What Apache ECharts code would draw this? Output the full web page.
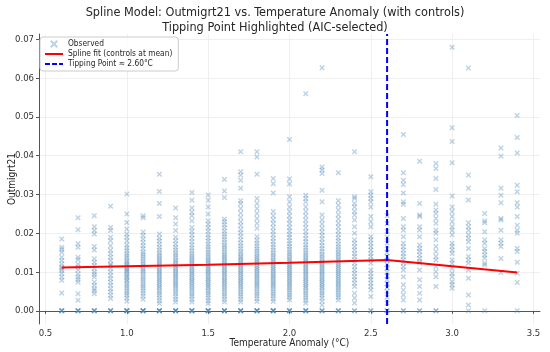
<!DOCTYPE html>
<html>
<head>
<meta charset="utf-8">
<script src="https://cdn.jsdelivr.net/npm/echarts@6/dist/echarts.min.js"></script>
<style>html,body{margin:0;padding:0;background:#fff}#chart{width:550px;height:352px}</style>
</head>
<body>
<div id="chart"></div>
<script>
// ---- Data ----
const temps = [0.6,0.7,0.8,0.9,1.0,1.1,1.2,1.3,1.4,1.5,1.6,1.7,1.8,1.9,2.0,2.1,2.2,2.3,2.4,2.5,2.6,2.7,2.8,2.9,3.0,3.1,3.2,3.3,3.4];

const obs06 = [0,0,0,0,0.0046,0.0079,0.0087,0.0096,0.0104,0.0109,0.0113,0.0121,0.013,0.0138,0.0151,0.0158,0.0164,0.0185];
const obs07 = [0,0,0,0,0.0027,0.0044,0.0074,0.0081,0.0087,0.0095,0.0105,0.0113,0.0120,0.0132,0.0138,0.0164,0.0173,0.0209,0.024];
const obs08 = [0,0,0,0,0.0044,0.0052,0.0057,0.0066,0.0074,0.0087,0.0094,0.0100,0.0109,0.0117,0.0125,0.0134,0.0157,0.0166,0.0198,0.0207,0.0217,0.0245];
const obs09 = [0,0,0,0,0.0032,0.0040,0.0049,0.0057,0.0066,0.0074,0.0083,0.0091,0.0100,0.0109,0.0117,0.0121,0.0130,0.0138,0.0147,0.0156,0.0168,0.0181,0.0190,0.0207,0.0215,0.027];
const obs10 = [0,0,0,0,0,0.0025,0.0033,0.0040,0.0046,0.0052,0.0058,0.0064,0.0070,0.0076,0.0080,0.0086,0.0090,0.0095,0.0100,0.0104,0.0108,0.0112,0.0116,0.0120,0.0125,0.0130,0.0136,0.0142,0.0148,0.0155,0.0162,0.0170,0.0181,0.0190,0.0198,0.0211,0.0228,0.0250,0.0301];
const obs11 = [0,0,0,0,0,0.0030,0.0038,0.0045,0.0052,0.0058,0.0064,0.0070,0.0076,0.0082,0.0088,0.0094,0.0100,0.0105,0.0110,0.0116,0.0122,0.0128,0.0134,0.0140,0.0146,0.0152,0.0160,0.0168,0.0176,0.0185,0.0194,0.0203,0.0240,0.0245];
const obs12 = [0,0,0,0,0,0.0019,0.0026,0.0033,0.0040,0.0046,0.0052,0.0058,0.0063,0.0068,0.0073,0.0078,0.0083,0.0088,0.0093,0.0098,0.0103,0.0108,0.0113,0.0118,0.0123,0.0128,0.0133,0.0138,0.0144,0.0150,0.0157,0.0164,0.0172,0.0180,0.0188,0.0198,0.0243,0.0277,0.0308,0.0352];
const obs13 = [0,0,0,0,0,0.0023,0.0030,0.0037,0.0044,0.0050,0.0056,0.0062,0.0067,0.0072,0.0077,0.0082,0.0087,0.0092,0.0097,0.0102,0.0107,0.0112,0.0117,0.0122,0.0127,0.0132,0.0138,0.0144,0.0150,0.0157,0.0164,0.0172,0.0181,0.0190,0.0207,0.0224,0.0240,0.0265];
const obs14 = [0,0,0,0,0,0.0023,0.0030,0.0037,0.0043,0.0049,0.0055,0.0061,0.0066,0.0071,0.0076,0.0081,0.0086,0.0091,0.0096,0.0101,0.0106,0.0111,0.0116,0.0121,0.0126,0.0131,0.0136,0.0142,0.0148,0.0155,0.0162,0.0170,0.0178,0.0187,0.0196,0.0205,0.0215,0.0232,0.0245,0.0254,0.0265,0.0285,0.0305];
const obs15 = [0,0,0,0,0,0.0019,0.0026,0.0033,0.0040,0.0046,0.0052,0.0058,0.0063,0.0068,0.0073,0.0078,0.0083,0.0088,0.0093,0.0098,0.0103,0.0108,0.0113,0.0118,0.0123,0.0128,0.0133,0.0139,0.0145,0.0151,0.0158,0.0165,0.0172,0.0180,0.0188,0.0196,0.0205,0.0214,0.0223,0.0232,0.0250,0.0268,0.0285,0.0299];
const obs16 = [0,0,0,0,0,0.0023,0.0030,0.0037,0.0043,0.0049,0.0055,0.0061,0.0066,0.0071,0.0076,0.0081,0.0086,0.0091,0.0096,0.0101,0.0106,0.0111,0.0116,0.0121,0.0126,0.0131,0.0136,0.0141,0.0146,0.0152,0.0158,0.0164,0.0170,0.0177,0.0184,0.0191,0.0198,0.0206,0.0214,0.0222,0.0230,0.0237,0.0292,0.0309,0.0339];
const obs17 = [0,0,0,0,0,0.0023,0.0030,0.0037,0.0043,0.0049,0.0055,0.0061,0.0066,0.0071,0.0076,0.0081,0.0086,0.0091,0.0096,0.0101,0.0106,0.0111,0.0116,0.0121,0.0126,0.0131,0.0136,0.0141,0.0147,0.0153,0.0160,0.0167,0.0175,0.0183,0.0192,0.0201,0.0210,0.0220,0.0230,0.0241,0.0252,0.0264,0.0276,0.0284,0.0316,0.0337,0.0350,0.0359,0.041];
const obs18 = [0,0,0,0,0,0.0024,0.0031,0.0038,0.0044,0.0050,0.0056,0.0062,0.0067,0.0072,0.0077,0.0082,0.0087,0.0092,0.0097,0.0102,0.0107,0.0112,0.0117,0.0122,0.0127,0.0132,0.0137,0.0142,0.0148,0.0154,0.0160,0.0167,0.0174,0.0182,0.0191,0.0213,0.0226,0.0238,0.0251,0.0264,0.0277,0.0290,0.0352,0.0397,0.041];
const obs19 = [0,0,0,0,0,0.0024,0.0031,0.0038,0.0044,0.0050,0.0056,0.0062,0.0067,0.0072,0.0077,0.0082,0.0087,0.0092,0.0097,0.0102,0.0107,0.0112,0.0117,0.0122,0.0127,0.0132,0.0138,0.0144,0.0150,0.0157,0.0164,0.0171,0.0179,0.0187,0.0196,0.0205,0.0215,0.0225,0.0235,0.0245,0.0256,0.0304,0.0328,0.0341];
const obs20 = [0,0,0,0,0.0028,0.0035,0.0041,0.0047,0.0053,0.0059,0.0064,0.0069,0.0074,0.0079,0.0084,0.0089,0.0094,0.0099,0.0104,0.0109,0.0114,0.0119,0.0124,0.0129,0.0134,0.0140,0.0146,0.0152,0.0159,0.0166,0.0173,0.0181,0.0189,0.0197,0.0206,0.0215,0.0225,0.0235,0.0245,0.0256,0.0268,0.0281,0.0294,0.0327,0.0340,0.0442];
const obs21 = [0,0,0,0,0.0020,0.0027,0.0034,0.0040,0.0046,0.0052,0.0058,0.0063,0.0068,0.0073,0.0078,0.0083,0.0088,0.0093,0.0098,0.0103,0.0108,0.0113,0.0118,0.0123,0.0128,0.0133,0.0138,0.0144,0.0150,0.0156,0.0163,0.0170,0.0178,0.0186,0.0195,0.0204,0.0214,0.0224,0.0234,0.0245,0.0256,0.0268,0.0281,0.0290,0.0298,0.056];
const obs22 = [0,0,0,0.0015,0.0025,0.0033,0.0040,0.0046,0.0052,0.0058,0.0063,0.0068,0.0073,0.0078,0.0083,0.0088,0.0093,0.0098,0.0103,0.0108,0.0113,0.0118,0.0123,0.0128,0.0134,0.0140,0.0146,0.0153,0.0160,0.0168,0.0176,0.0185,0.0194,0.0203,0.0213,0.0224,0.0235,0.0247,0.0281,0.0311,0.0354,0.0363,0.0371,0.0627];
const obs23 = [0,0,0,0.0028,0.0035,0.0041,0.0047,0.0053,0.0059,0.0064,0.0069,0.0074,0.0079,0.0084,0.0089,0.0094,0.0099,0.0104,0.0109,0.0114,0.0119,0.0124,0.0129,0.0134,0.0140,0.0146,0.0152,0.0158,0.0165,0.0172,0.0180,0.0188,0.0197,0.0206,0.0216,0.0226,0.0237,0.0248,0.0260,0.0272,0.0284,0.0356];
const obs24 = [0,0,0.0020,0.0033,0.0045,0.0063,0.0071,0.0080,0.0088,0.0097,0.0105,0.0114,0.0123,0.0131,0.0140,0.0148,0.0157,0.0165,0.0174,0.0183,0.0200,0.0217,0.0234,0.0247,0.0256,0.0268,0.0277,0.0290,0.0294,0.041];
const obs25 = [0,0,0.0037,0.0054,0.0063,0.0071,0.0080,0.0088,0.0097,0.0105,0.0123,0.0131,0.0140,0.0148,0.0157,0.0165,0.0174,0.0183,0.0191,0.0217,0.0230,0.0243,0.0268,0.0281,0.0290,0.0298,0.0307,0.0346];
const obs26 = [0,0,0.0020,0.0035,0.0050,0.0060,0.0070,0.0080,0.0090,0.0100,0.0110,0.0120,0.0130,0.0140,0.0150,0.0160,0.0175,0.0190,0.0205,0.0225,0.0245];
const obs27 = [0,0,0.0028,0.0041,0.0054,0.0067,0.0088,0.0105,0.0114,0.0123,0.0131,0.0140,0.0148,0.0157,0.0165,0.0174,0.0191,0.0208,0.0217,0.0238,0.0275,0.0281,0.0304,0.0326,0.0337,0.0356,0.0455];
const obs28 = [0,0,0.0028,0.0045,0.0063,0.0080,0.0105,0.0123,0.0127,0.0135,0.0144,0.0153,0.0161,0.0170,0.0191,0.0208,0.0217,0.0243,0.0247,0.0277,0.0386];
const obs29 = [0,0,0.0063,0.0088,0.0101,0.0114,0.0131,0.0140,0.0153,0.0166,0.0183,0.0200,0.0208,0.0226,0.0238,0.0251,0.0260,0.0275,0.0313,0.0341,0.0367,0.038];
const obs30 = [0.0058,0.0067,0.0075,0.0088,0.0097,0.0110,0.0123,0.0131,0.0148,0.0157,0.0166,0.0174,0.0196,0.0208,0.0217,0.0230,0.0243,0.0256,0.0268,0.0296,0.0382,0.0437,0.0472,0.068];
const obs31 = [0,0.0015,0.0041,0.0084,0.0105,0.0123,0.0131,0.0140,0.0161,0.0178,0.0187,0.0196,0.0208,0.0217,0.0227,0.0286,0.0316,0.035,0.0626];
const obs32 = [0,0.0118,0.0123,0.0136,0.0144,0.0153,0.0161,0.0174,0.0183,0.0204,0.0227,0.0232,0.0251];
const obs33 = [0.0099,0.0135,0.0166,0.0174,0.0183,0.0208,0.0234,0.0238,0.0279,0.0298,0.0316,0.0399,0.042];
const obs34 = [0,0.0073,0.0097,0.0125,0.0153,0.0161,0.0200,0.0208,0.0221,0.0243,0.0268,0.0279,0.0307,0.0324,0.0407,0.0447,0.0504];

const obsByTemp = [obs06,obs07,obs08,obs09,obs10,obs11,obs12,obs13,obs14,obs15,obs16,obs17,obs18,obs19,obs20,obs21,obs22,obs23,obs24,obs25,obs26,obs27,obs28,obs29,obs30,obs31,obs32,obs33,obs34];

const splineX = [0.6, 1.0, 1.5, 2.0, 2.6, 3.0, 3.4];
const splineY = [0.0112, 0.0115, 0.0119, 0.0124, 0.0131, 0.0115, 0.0099];

const tippingPoint = 2.6;
const xTicks = [0.5, 1.0, 1.5, 2.0, 2.5, 3.0, 3.5];
const yTicks = [0.00, 0.01, 0.02, 0.03, 0.04, 0.05, 0.06, 0.07];
const xRange = [0.46, 3.54];
const yRange = [-0.0034, 0.0714];

// ---- Build series ----
const scatterData = [];
temps.forEach((t, i) => obsByTemp[i].forEach(v => scatterData.push([t, v])));
const splineData = splineX.map((x, i) => [x, splineY[i]]);
const tipData = [[tippingPoint, yRange[0]], [tippingPoint, yRange[1]]];

const xSym = 'path://M0,1.8L1.8,0L5,3.2L8.2,0L10,1.8L6.8,5L10,8.2L8.2,10L5,6.8L1.8,10L0,8.2L3.2,5Z';
const FONT = '"DejaVu Sans Condensed", "DejaVu Sans", sans-serif';

const chart = echarts.init(document.getElementById('chart'), null, {renderer: 'canvas'});
chart.setOption({
  animation: false,
  backgroundColor: '#ffffff',
  textStyle: {fontFamily: FONT},
  title: {
    text: 'Spline Model: Outmigrt21 vs. Temperature Anomaly (with controls)\nTipping Point Highlighted (AIC-selected)',
    left: 'center', top: 0,
    textStyle: {fontFamily: FONT, fontSize: 12.6, fontWeight: 'normal', color: '#262626', lineHeight: 15, align: 'center'}
  },
  legend: {
    orient: 'vertical', left: 40, top: 37,
    backgroundColor: 'rgba(255,255,255,0.85)', borderColor: '#cccccc', borderWidth: 1, borderRadius: 3,
    padding: [3, 6, 3, 4], itemGap: 2, itemWidth: 18, itemHeight: 8,
    textStyle: {fontFamily: FONT, fontSize: 8.3, color: '#262626'},
    data: [
      {name: 'Observed'},
      {name: 'Spline fit (controls at mean)', itemStyle: {color: 'transparent', borderColor: 'transparent', borderWidth: 0}},
      {name: 'Tipping Point ≈ 2.60°C', itemStyle: {color: 'transparent', borderColor: 'transparent', borderWidth: 0}, lineStyle: {type: [5, 2]}}
    ]
  },
  grid: {left: 39, right: 10, top: 34, bottom: 28, containLabel: false, outerBoundsMode: 'none'},
  xAxis: {
    type: 'value', min: xRange[0], max: xRange[1],
    name: 'Temperature Anomaly (°C)', nameLocation: 'middle', nameGap: 14, nameMoveOverlap: false,
    nameTextStyle: {fontFamily: FONT, fontSize: 10, color: '#262626'},
    axisLine: {show: true, lineStyle: {color: '#555555', width: 1}},
    axisTick: {show: true, customValues: xTicks, length: 3, lineStyle: {color: '#555555'}},
    axisLabel: {customValues: xTicks, margin: 5, fontSize: 9.5, color: '#333333', formatter: v => v.toFixed(1)},
    splitLine: {show: true, lineStyle: {color: '#ebebeb', width: 0.8}}
  },
  yAxis: {
    type: 'value', min: yRange[0], max: yRange[1],
    name: 'Outmigrt21', nameLocation: 'middle', nameGap: 22, nameMoveOverlap: false,
    nameTextStyle: {fontFamily: FONT, fontSize: 10, color: '#262626'},
    axisLine: {show: true, lineStyle: {color: '#555555', width: 1}},
    axisTick: {show: true, customValues: yTicks, length: 3, lineStyle: {color: '#555555'}},
    axisLabel: {customValues: yTicks, margin: 5, fontSize: 9.5, color: '#333333', formatter: v => v.toFixed(2)},
    splitLine: {show: true, lineStyle: {color: '#ebebeb', width: 0.8}}
  },
  series: [
    {
      name: 'Observed', type: 'scatter', data: scatterData,
      symbol: xSym, symbolSize: 5.5,
      itemStyle: {color: 'rgba(70,130,180,0.45)'},
      z: 2
    },
    {
      name: 'Spline fit (controls at mean)', type: 'line', data: splineData,
      symbol: 'none', smooth: false,
      lineStyle: {color: '#ff0000', width: 2},
      itemStyle: {color: '#ff0000'},
      z: 3
    },
    {
      name: 'Tipping Point ≈ 2.60°C', type: 'line', data: tipData,
      symbol: 'none',
      lineStyle: {color: '#0000ff', width: 2, type: [6, 3]},
      itemStyle: {color: '#0000ff'},
      z: 4
    }
  ]
});
</script>
</body>
</html>
